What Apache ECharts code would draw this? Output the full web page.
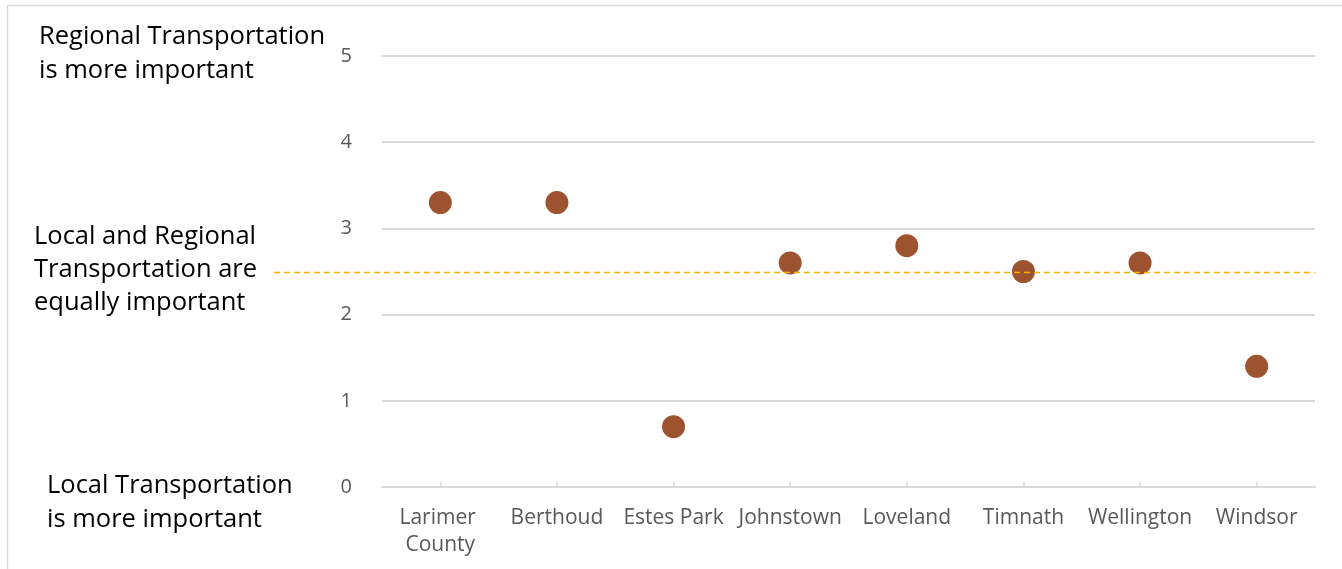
<!DOCTYPE html>
<html>
<head>
<meta charset="utf-8">
<script src="https://cdn.jsdelivr.net/npm/echarts@6/dist/echarts.min.js"></script>
<style>
  html, body { margin: 0; padding: 0; background: #fff; }
  #chart { width: 1342px; height: 569px; }
</style>
</head>
<body>
<div id="chart"></div>
<script>
// Communities and their average preference score (0 = local, 5 = regional)
const communities = ['Larimer County', 'Berthoud', 'Estes Park', 'Johnstown', 'Loveland', 'Timnath', 'Wellington', 'Windsor'];
const scores = [3.3, 3.3, 0.7, 2.6, 2.8, 2.5, 2.6, 1.4];
const yTicks = [0, 1, 2, 3, 4, 5];
const equalLevel = 2.5;
const noteTop = ['Regional Transportation', 'is more important'];
const noteMiddle = ['Local and Regional', 'Transportation are', 'equally important'];
const noteBottom = ['Local Transportation', 'is more important'];

const FONT = '"Open Sans", Lato, sans-serif';
const chart = echarts.init(document.getElementById('chart'), null, { renderer: 'canvas' });

const noteStyle = (lines, lh) => ({
  text: lines.join('\n'),
  font: '25.5px ' + FONT,
  fill: '#000',
  lineHeight: lh
});

chart.setOption({
  animation: false,
  backgroundColor: '#fff',
  grid: { left: 382, right: 27, top: 56, bottom: 82, containLabel: false },
  xAxis: {
    type: 'category',
    data: communities,
    boundaryGap: true,
    axisLine: { lineStyle: { color: '#D9D9D9', width: 2 } },
    axisTick: { show: true, inside: true, length: 5, alignWithLabel: true, lineStyle: { color: '#D9D9D9', width: 1.5 } },
    axisLabel: {
      color: '#595959', fontFamily: FONT, fontSize: 21, margin: 18,
      interval: 0, width: 114, overflow: 'break', lineHeight: 27
    }
  },
  yAxis: {
    type: 'value',
    min: yTicks[0],
    max: yTicks[yTicks.length - 1],
    interval: 1,
    axisLine: { show: false },
    axisTick: { show: false },
    axisLabel: { color: '#595959', fontFamily: FONT, fontSize: 20, margin: 30 },
    splitLine: { lineStyle: { color: '#D9D9D9', width: 2 } }
  },
  series: [{
    type: 'scatter',
    data: scores,
    symbol: 'circle',
    symbolSize: 23,
    itemStyle: { color: '#9E5330', opacity: 1 },
    z: 3
  }],
  graphic: [
    { type: 'rect', shape: { x: 7.5, y: 5.5, width: 1345, height: 575 }, style: { fill: 'none', stroke: '#D9D9D9', lineWidth: 1.5 }, silent: true },
    { type: 'text', left: 39, top: 20, style: noteStyle(noteTop, 34) },
    { type: 'text', left: 34, top: 220, style: noteStyle(noteMiddle, 33) },
    { type: 'text', left: 47, top: 469, style: noteStyle(noteBottom, 34) }
  ]
});

// Dashed "equally important" reference line, running from the middle note across the plot
const gridRect = chart.getModel().getComponent('grid').coordinateSystem.getRect();
const yLine = Math.round(chart.convertToPixel({ yAxisIndex: 0 }, equalLevel)) + 0.5;
chart.setOption({
  graphic: [{
    id: 'equalLine',
    type: 'line',
    z: 100,
    shape: { x1: 274, y1: yLine, x2: gridRect.x + gridRect.width, y2: yLine },
    style: { stroke: '#F5B000', lineWidth: 1.6, lineDash: [6, 4] },
    silent: true
  }]
});
</script>
</body>
</html>
